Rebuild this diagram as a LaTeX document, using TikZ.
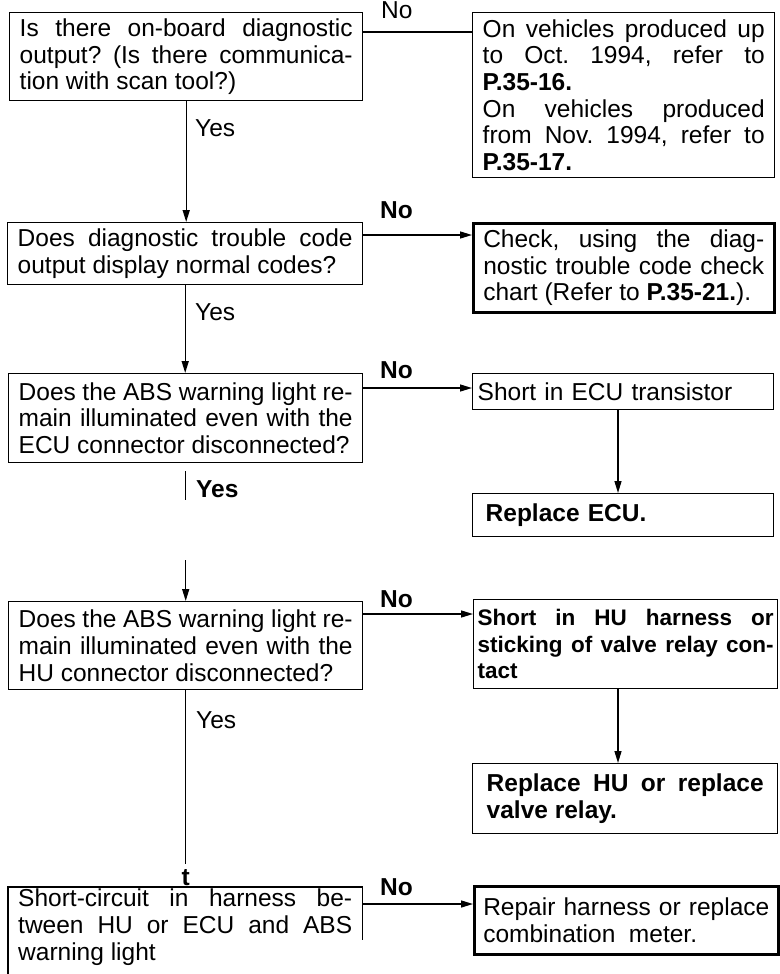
\documentclass[tikz,border=0pt]{standalone}
\usepackage{fontspec}
\setmainfont{Liberation Sans}
\usetikzlibrary{arrows.meta,calc}
\tikzset{
  every node/.style={font=\fontsize{24.5}{26.7}\selectfont},
  box/.style={draw, line width=1.4pt, inner xsep=10pt, inner ysep=0pt, align=justify, anchor=north west},
  thickbox/.style={box, line width=2.6pt},
  lbl/.style={inner sep=0pt, anchor=base west},
  blbl/.style={lbl, font=\fontsize{24.5}{26.7}\selectfont\bfseries},
  arr/.style={line width=1.4pt, -{Triangle[length=12pt,width=7pt]}},
  ln/.style={line width=1.4pt},
}
\begin{document}
\frenchspacing
\begin{tikzpicture}[x=1pt,y=-1pt]
\useasboundingbox (0,0) rectangle (779,974);

% boxes
\node[box, text width=333pt, minimum height=88pt] (b1) at (9,12)
  {Is there on-board diagnostic\linebreak output? (Is there communica-\linebreak tion with scan tool?)};
\node[box, text width=282pt, minimum height=165pt] (b2) at (472,12)
  {On vehicles produced up\linebreak to Oct. 1994, refer to\linebreak \textbf{P.35-16.}\\ On vehicles produced\linebreak from Nov. 1994, refer to\linebreak \textbf{P.35-17.}};
\node[box, text width=335pt, minimum height=62pt] (b3) at (7,222)
  {Does diagnostic trouble code\linebreak output display normal codes?};
\node[thickbox, text width=281pt, minimum height=89pt] (b4) at (472,222)
  {Check, using the diag-\linebreak nostic trouble code check\linebreak chart (Refer to \textbf{P.35-21.}).};
\node[box, text width=334pt, minimum height=89pt] (b5) at (8,373)
  {Does the ABS warning light re-\linebreak main illuminated even with the\linebreak ECU connector disconnected?};
\node[box, align=left, inner xsep=5pt, text width=291pt, minimum height=36pt] (b6) at (472,373)
  {Short in ECU transistor};
\node[box, align=left, inner xsep=13pt, text width=275pt, minimum height=43pt, font=\fontsize{24.5}{26.7}\selectfont\bfseries] (b7) at (472,493)
  {Replace ECU.};
\node[box, text width=334pt, minimum height=88pt] (b8) at (8,601)
  {Does the ABS warning light re-\linebreak main illuminated even with the\linebreak HU connector disconnected?};
\node[box, inner xsep=4pt, text width=296pt, minimum height=89pt, font=\fontsize{22.5}{26.7}\selectfont\bfseries] (b9) at (473,599)
  {Short in HU harness or\linebreak sticking of valve relay con-\linebreak tact};
\node[box, inner xsep=14pt, text width=277pt, minimum height=70pt, font=\fontsize{24.5}{26.7}\selectfont\bfseries] (b10) at (472,763)
  {Replace HU or replace\linebreak valve relay.};
\node[anchor=north west, inner xsep=10pt, inner ysep=2pt, text width=334pt, align=justify] (b11) at (8,887)
  {Short-circuit in harness be-\linebreak tween HU or ECU and ABS\linebreak warning light};
\draw[ln] ($(b11.north west)+(0,87)$) -- (b11.north west) -- (b11.north east) -- ++(0,53);
\node[thickbox, inner xsep=9pt, text width=286pt, minimum height=68pt] (b12) at (473,885)
  {Repair harness or replace\linebreak combination\ \ meter.};

% connectors
\draw[ln] ($(b1.north east)+(0,20)$) coordinate (c1) -- (c1 -| b2.west);
\node[lbl] at (381,19) {No};
\draw[arr] (b1.south) -- (b1.south |- b3.north);
\node[lbl] at (195,136) {Yes};

\draw[arr] ($(b3.north east)+(0,13)$) coordinate (c3) -- (c3 -| b4.west);
\node[blbl] at (380,218) {No};
\draw[arr] (b3.south) -- (b3.south |- b5.north);
\node[lbl] at (195,320) {Yes};

\draw[arr] ($(b5.north east)+(0,15)$) coordinate (c5) -- (c5 -| b6.west);
\node[blbl] at (380,378) {No};
\draw[arr] ($(b6.south west)+(146,0)$) coordinate (c6) -- (c6 |- b7.north);

\draw[ln] ($(b5.south)+(0,8)$) -- ++(0,29);
\node[blbl] at (196,497) {Yes};
\draw[arr] ($(b8.north)+(0,-41)$) coordinate (c7) -- (b8.north);

\draw[arr] ($(b8.north east)+(0,13)$) coordinate (c8) -- (c8 -| b9.west);
\node[blbl] at (380,607) {No};
\draw[arr] ($(b9.south west)+(145,0)$) coordinate (c9) -- (c9 |- b10.north);

\draw[ln] (b8.south) -- ++(0,174) coordinate (c10);
\node[lbl] at (196,728) {Yes};
\node[anchor=base, inner sep=0pt, font=\fontsize{24.5}{26.7}\selectfont\bfseries] (tt) at (c10 |- 0,885) {t};

\draw[arr] ($(b11.north east)+(0,17)$) coordinate (c11) -- (c11 -| b12.west);
\node[blbl] at (380,895) {No};
\end{tikzpicture}
\end{document}
